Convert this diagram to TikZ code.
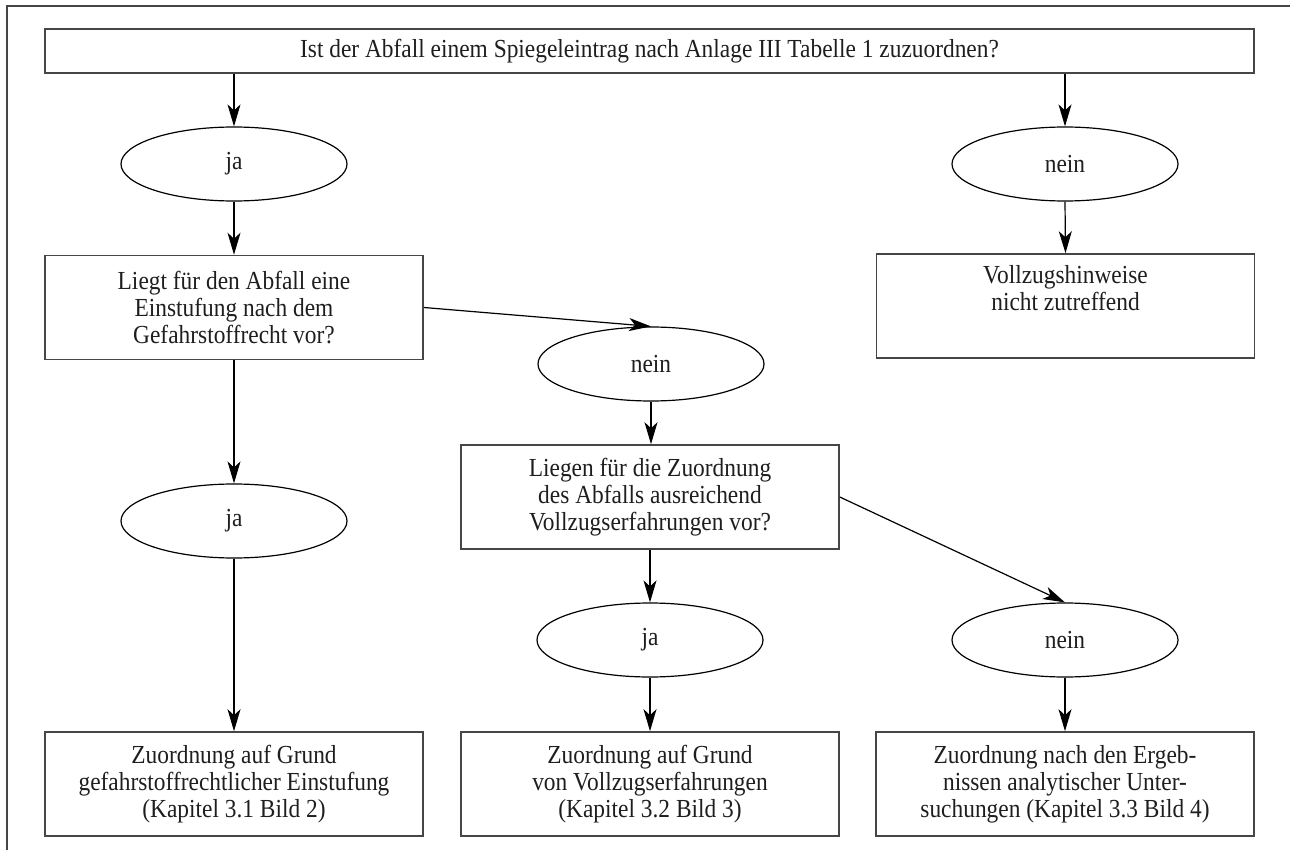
\documentclass[tikz,border=0pt]{standalone}
\usepackage{fontspec}
\setmainfont[FakeStretch=0.9]{Liberation Serif}
\usetikzlibrary{shapes.geometric,arrows.meta}
\definecolor{framegray}{RGB}{70,70,70}
\definecolor{txt}{RGB}{30,30,30}
\tikzset{
  qbox/.style={draw=framegray, line width=0.8pt, rectangle, inner sep=0pt,
    minimum width=189pt, minimum height=52pt, align=center,
    font=\fontsize{13}{13.6}\selectfont, text=txt},
  oval/.style={draw=black, line width=0.6pt, ellipse, inner sep=0pt,
    minimum width=113pt, minimum height=37pt,
    font=\fontsize{13}{13.6}\selectfont, text=txt},
  conn/.style={draw=black, line width=0.6pt,
    -{Stealth[length=11pt,width=6.5pt,inset=3pt]}},
  framel/.style={draw=framegray, line width=0.9pt}
}
\begin{document}
\begin{tikzpicture}[x=0.5pt,y=-0.5pt]
\useasboundingbox (0,0) rectangle (1290,850);
\draw[framel] (1290,6) -- (7,6) -- (7,850);

\node[qbox, minimum width=604.5pt, minimum height=22pt] (top) at (649.5,51)
  {Ist der Abfall einem Spiegeleintrag nach Anlage III Tabelle 1 zuzuordnen?};

\node[oval] (ja1) at (234,164) {ja};
\node[oval] (nein1) at (1065,164) {nein};

\node[qbox] (box1) at (234,307.5)
  {Liegt für den Abfall eine\\Einstufung nach dem\\Gefahrstoffrecht vor?};
\node[qbox] (voll) at (1065.5,306)
  {Vollzugshinweise\\nicht zutreffend\\\strut};

\node[oval] (nein2) at (651,364) {nein};
\node[qbox] (box2) at (650,497)
  {Liegen für die Zuordnung\\des Abfalls ausreichend\\Vollzugserfahrungen vor?};

\node[oval] (ja2) at (234,521) {ja};
\node[oval] (ja3) at (650,640) {ja};
\node[oval] (nein3) at (1065,640) {nein};

\node[qbox] (res1) at (234,784)
  {Zuordnung auf Grund\\gefahrstoffrechtlicher Einstufung\\(Kapitel 3.1 Bild 2)};
\node[qbox] (res2) at (650,784)
  {Zuordnung auf Grund\\von Vollzugserfahrungen\\(Kapitel 3.2 Bild 3)};
\node[qbox] (res3) at (1065,784)
  {Zuordnung nach den Ergeb-\\nissen analytischer Unter-\\suchungen (Kapitel 3.3 Bild 4)};

\draw[conn] (top.south -| ja1.north) -- (ja1.north);
\draw[conn] (top.south -| nein1.north) -- (nein1.north);
\draw[conn] (ja1.south) -- (box1.north);
\draw[conn] (nein1.south) -- (voll.north);
\draw[conn] (box1.east) -- (nein2.north);
\draw[conn] (nein2.south) -- (box2.north -| nein2.south);
\draw[conn] (box1.south) -- (ja2.north);
\draw[conn] (ja2.south) -- (res1.north);
\draw[conn] (box2.south) -- (ja3.north);
\draw[conn] (ja3.south) -- (res2.north);
\draw[conn] (box2.east) -- (nein3.north);
\draw[conn] (nein3.south) -- (res3.north);
\end{tikzpicture}
\end{document}
